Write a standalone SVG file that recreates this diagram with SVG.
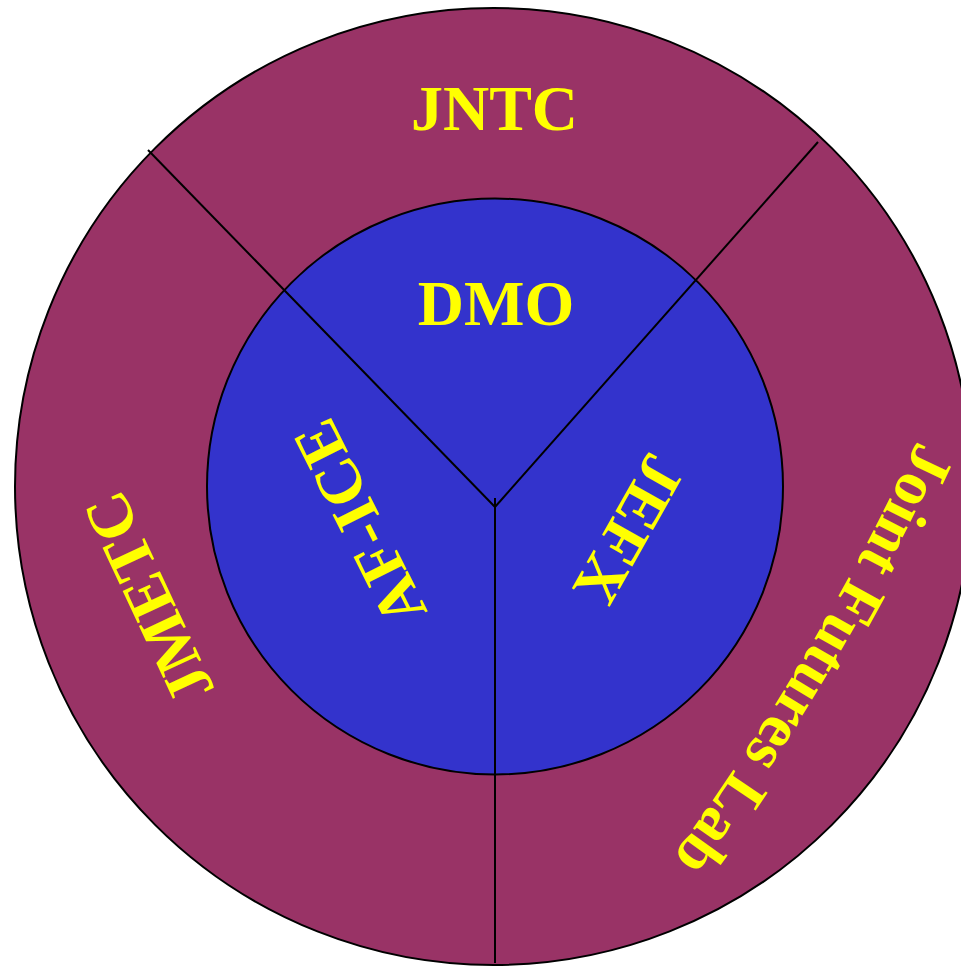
<svg xmlns="http://www.w3.org/2000/svg" width="961" height="967" viewBox="0 0 961 967">
<style>
.lbl{font-family:"Liberation Serif","Times New Roman",serif;font-weight:bold;font-size:64px;fill:#FFFF00}
.ln{stroke:#000;stroke-width:2;fill:none}
</style>
<defs>
<path id="arcR" d="M 968.4 323.5 A 2500 2500 0 0 1 565.5 994"/>
</defs>
<g id="outer"><circle cx="493.5" cy="486.5" r="478.5" fill="#993366" stroke="#000" stroke-width="2"/></g>
<g id="inner"><circle cx="495" cy="486.5" r="288" fill="#3333CC" stroke="#000" stroke-width="2"/></g>
<g id="connectors">
<line class="ln" x1="148" y1="150" x2="495" y2="507"/>
<line class="ln" x1="818" y1="142" x2="495" y2="507"/>
<line class="ln" x1="495" y1="498" x2="495" y2="963"/>
</g>
<g id="jntc"><text class="lbl" x="494.5" y="130" text-anchor="middle">JNTC</text></g>
<g id="dmo"><text class="lbl" x="496" y="325" text-anchor="middle">DMO</text></g>
<g id="jmetc"><text class="lbl" transform="translate(148,598) rotate(-115)" x="0" y="22" text-anchor="middle">JMETC</text></g>
<g id="afice"><text class="lbl" transform="translate(359,523) rotate(-116.6)" x="0" y="22" text-anchor="middle">AF-ICE</text></g>
<g id="jefx"><text class="lbl" transform="translate(630,530) rotate(119.4)" x="0" y="22" text-anchor="middle">JEFX</text></g>
<g id="jfl"><text class="lbl" style="font-size:63px"><textPath href="#arcR" startOffset="127">Joint Futures Lab</textPath></text></g>
</svg>
